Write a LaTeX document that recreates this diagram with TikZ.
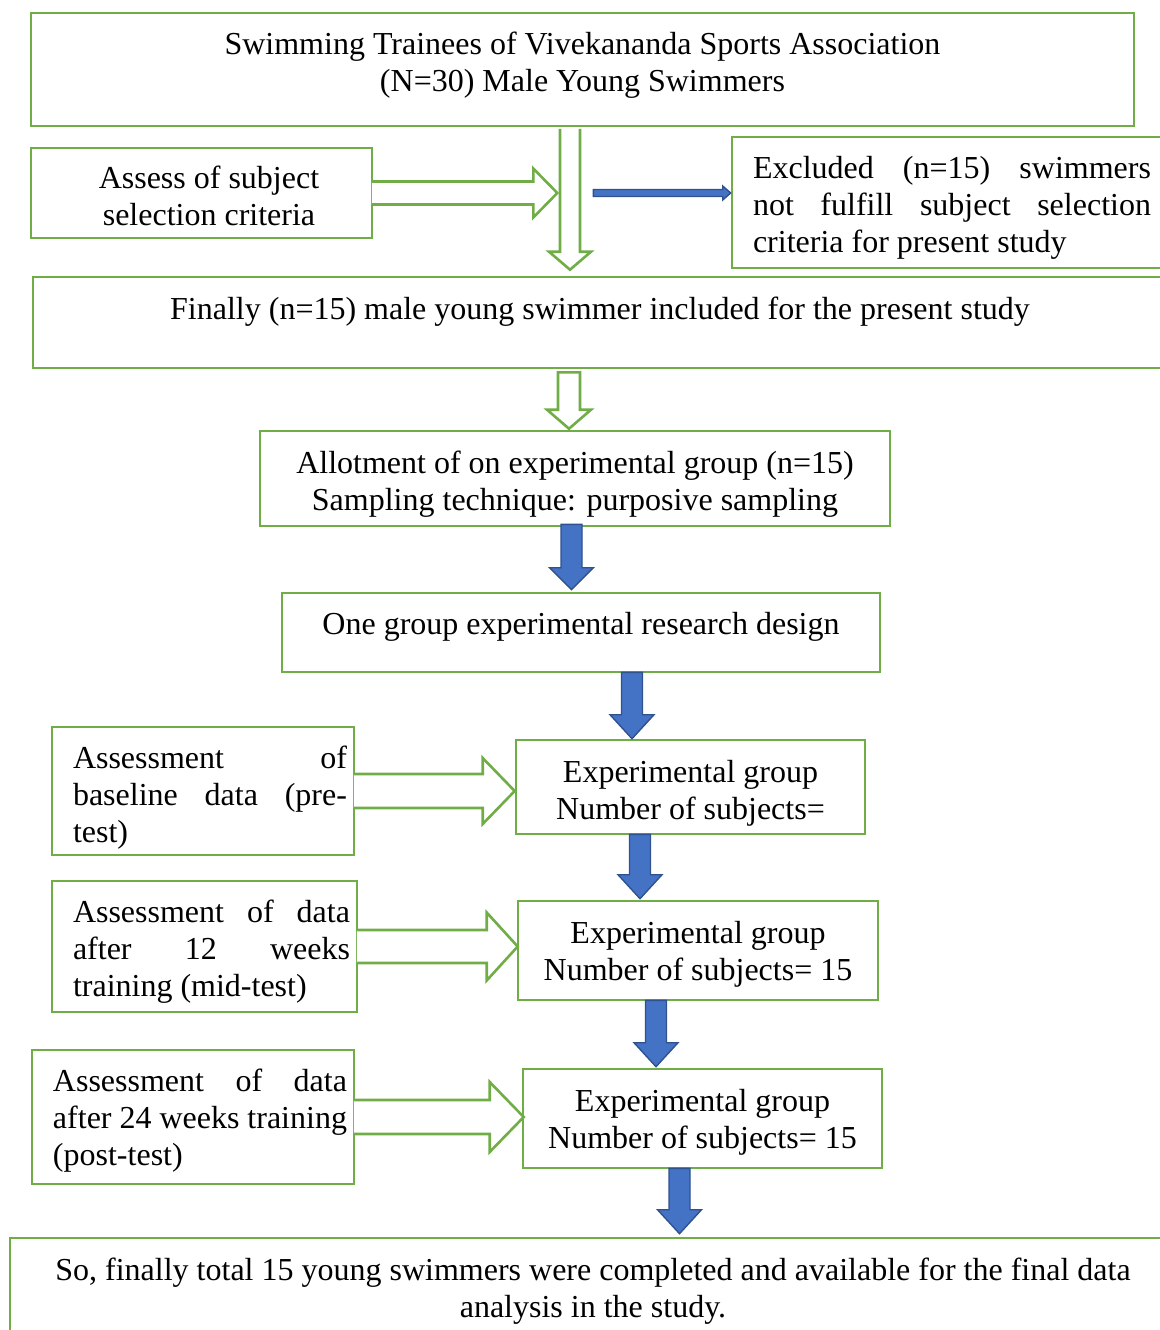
\documentclass[tikz,border=0pt]{standalone}
\usepackage{fontspec}
\setmainfont{Liberation Serif}
\usetikzlibrary{calc}
\definecolor{boxgreen}{RGB}{112,173,71}
\definecolor{arrowblue}{RGB}{68,114,196}
\definecolor{edgeblue}{RGB}{47,82,143}

\tikzset{
  flowbox/.style={draw=boxgreen, line width=1.3pt, inner sep=2pt,
    font=\fontsize{16pt}{18.5pt}\selectfont},
  hollow/.style={draw=boxgreen, line width=1.3pt, line join=miter},
  hollowshut/.style={fill=white, draw=boxgreen, line width=1.3pt, line join=miter},
  bluearrow/.style={fill=arrowblue, draw=edgeblue, line width=0.7pt, line join=miter},
}

% centred lines, moved up or down by #1
\newcommand{\boxtext}[2]{\raisebox{#1}[\height][\depth]{\begin{tabular}{@{}c@{}}#2\end{tabular}}}
% justified block: shift, left gap, width, text
\newcommand{\justtext}[4]{\raisebox{#1}[\height][\depth]{\hspace*{#2}\parbox{#3}{#4}}}

% closed block arrow: style, from, to, half shaft, half head, head length
\newcommand{\blockarrow}[6][]{%
  \coordinate (bahead) at ($(#3)!#6!(#2)$);
  \filldraw[#1] ($(#2)!#4!90:(#3)$) -- ($(bahead)!#4!90:(#3)$) -- ($(bahead)!#5!90:(#3)$)
    -- (#3) -- ($(bahead)!#5!-90:(#3)$) -- ($(bahead)!#4!-90:(#3)$) -- ($(#2)!#4!-90:(#3)$) -- cycle;}
% hollow block arrow with open rear: from, to, half shaft, half head, head length
\newcommand{\hollowarrow}[5]{%
  \coordinate (bahead) at ($(#2)!#5!(#1)$);
  \fill[white] ($(#1)!#3!90:(#2)$) -- ($(bahead)!#3!90:(#2)$) -- ($(bahead)!#4!90:(#2)$)
    -- (#2) -- ($(bahead)!#4!-90:(#2)$) -- ($(bahead)!#3!-90:(#2)$) -- ($(#1)!#3!-90:(#2)$) -- cycle;
  \draw[hollow] ($(#1)!#3!90:(#2)$) -- ($(bahead)!#3!90:(#2)$) -- ($(bahead)!#4!90:(#2)$)
    -- (#2) -- ($(bahead)!#4!-90:(#2)$) -- ($(bahead)!#3!-90:(#2)$) -- ($(#1)!#3!-90:(#2)$);}

\begin{document}
\begin{tikzpicture}[x=0.5pt,y=-0.5pt]
\useasboundingbox (0,0) rectangle (1160,1330);

% boxes
\node[flowbox, minimum width=551.5pt, minimum height=56.5pt] (top) at (582.5,69.5)
  {\boxtext{1.75pt}{Swimming Trainees of Vivekananda Sports Association\\(N=30) Male Young Swimmers}};
\node[flowbox, minimum width=170.5pt, minimum height=45pt] (assess) at (201.5,193)
  {\raisebox{-3.5pt}[\height][\depth]{\begin{tabular}{@{\hspace{7.5pt}}c@{}}Assess of subject\\selection criteria\end{tabular}}};
\node[flowbox, minimum width=220pt, minimum height=65.5pt] (excl) at (952,202.5)
  {\justtext{-2.5pt}{0pt}{199pt}{Excluded (n=15) swimmers\linebreak not fulfill subject selection\linebreak criteria for present study}};
\node[flowbox, minimum width=567pt, minimum height=45.5pt] (fin) at (600,322.5)
  {\raisebox{5.5pt}[\height][\depth]{Finally (n=15) male young swimmer included for the present study}};
\node[flowbox, minimum width=315pt, minimum height=47.5pt] (allot) at (575,478.5)
  {\boxtext{-3pt}{Allotment of on experimental group (n=15)\\Sampling technique: purposive sampling}};
\node[flowbox, minimum width=299pt, minimum height=39.5pt] (one) at (581,632.5)
  {\raisebox{3pt}[\height][\depth]{One group experimental research design}};

\node[flowbox, minimum width=174.5pt, minimum height=47pt] (exp1) at (690.5,787)
  {\boxtext{-3.25pt}{Experimental group\\Number of subjects=}};
\node[flowbox, minimum width=180pt, minimum height=49.5pt] (exp2) at (698,950.5)
  {\boxtext{-2.25pt}{Experimental group\\Number of subjects= 15}};
\node[flowbox, minimum width=179.5pt, minimum height=49.5pt] (exp3) at (702.5,1118.5)
  {\boxtext{-2.25pt}{Experimental group\\Number of subjects= 15}};

\node[flowbox, minimum width=151pt, minimum height=64pt] (left1) at (203,791)
  {\justtext{-3.5pt}{7pt}{137pt}{Assessment of\linebreak baseline data (pre-\linebreak test)}};
\node[flowbox, minimum width=152.5pt, minimum height=65.5pt] (left2) at (204.5,946.5)
  {\justtext{-2.5pt}{7pt}{138.5pt}{Assessment of data\linebreak after 12 weeks\linebreak training (mid-test)}};
\node[flowbox, minimum width=161pt, minimum height=67pt] (left3) at (193,1117)
  {\justtext{-2pt}{7pt}{147pt}{Assessment of data\linebreak after 24 weeks training\linebreak (post-test)}};

\node[flowbox, minimum width=583pt, minimum height=47pt] (final) at (593,1285)
  {\boxtext{-3.25pt}{So, finally total 15 young swimmers were completed and available for the final data\\analysis in the study.}};

% hollow arrows
\coordinate (va) at ($(top.south)+(-12.5,1.5)$);
\coordinate (vb) at ($(va |- fin.north)+(0,-6)$);
\hollowarrow{va}{vb}{5pt}{10.5pt}{9pt}
\coordinate (ha) at ($(assess.east)+(-1.5,0)$);
\coordinate (hb) at ($(ha)+(185.5,0)$);
\hollowarrow{ha}{hb}{5.75pt}{12.25pt}{12pt}
\coordinate (da) at ($(fin.south)+(-31,3)$);
\coordinate (db) at ($(da |- allot.north)+(0,-1)$);
\blockarrow[hollowshut]{da}{db}{5.5pt}{11pt}{9.5pt}

\coordinate (ea) at ($(left1.east)+(-1.5,0)$);
\coordinate (eb) at (left1.east -| exp1.west);
\hollowarrow{ea}{eb}{8.5pt}{16.5pt}{16pt}
\coordinate (fa) at ($(left2.east)+(-1.5,0)$);
\coordinate (fb) at ($(left2.east -| exp2.west)+(1,0)$);
\hollowarrow{fa}{fb}{8.25pt}{17pt}{15.5pt}
\coordinate (ga) at ($(left3.east)+(-1.5,0)$);
\coordinate (gb) at ($(left3.east -| exp3.west)+(2,0)$);
\hollowarrow{ga}{gb}{8.5pt}{17.5pt}{17pt}

% blue arrows
\coordinate (exa) at ($(ha)+(221.5,0)$);
\coordinate (exb) at (exa -| excl.west);
\blockarrow[bluearrow]{exa}{exb}{1.75pt}{3.5pt}{4pt}
\coordinate (ba1) at ($(allot.south)+(-3.5,-3)$);
\coordinate (bb1) at ($(ba1 |- one.north)+(0,-2)$);
\blockarrow[bluearrow]{ba1}{bb1}{5.25pt}{11pt}{11pt}
\coordinate (ba2) at ($(one.south)+(51,-1)$);
\coordinate (bb2) at (ba2 |- exp1.north);
\blockarrow[bluearrow]{ba2}{bb2}{5.25pt}{11pt}{12pt}
\coordinate (ba3) at ($(exp1.south)+(-50.5,-1)$);
\coordinate (bb3) at ($(ba3 |- exp2.north)+(0,-1)$);
\blockarrow[bluearrow]{ba3}{bb3}{5.25pt}{11pt}{12pt}
\coordinate (ba4) at ($(exp2.south)+(-42,-1)$);
\coordinate (bb4) at ($(ba4 |- exp3.north)+(0,-1)$);
\blockarrow[bluearrow]{ba4}{bb4}{5.25pt}{11pt}{12pt}
\coordinate (ba5) at ($(exp3.south)+(-23,-1)$);
\coordinate (bb5) at ($(ba5 |- final.north)+(0,-3)$);
\blockarrow[bluearrow]{ba5}{bb5}{5.25pt}{11pt}{12pt}
\end{tikzpicture}
\end{document}
